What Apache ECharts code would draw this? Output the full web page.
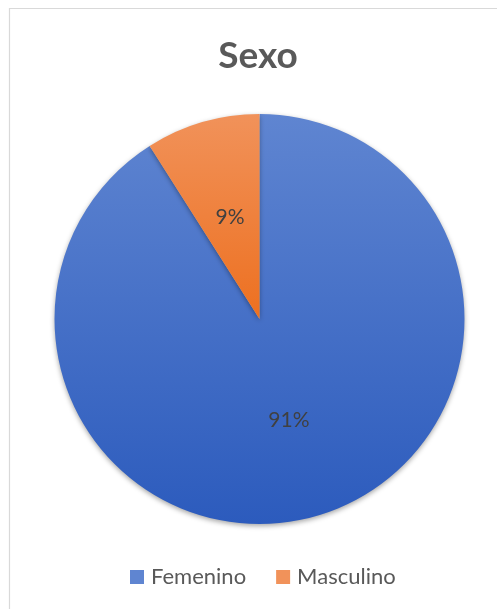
<!DOCTYPE html>
<html><head><meta charset="utf-8">
<script src="https://cdn.jsdelivr.net/npm/echarts@6/dist/echarts.min.js"></script>
<style>html,body{margin:0;padding:0;background:#fff}#c{width:497px;height:609px}</style>
</head><body><div id="c"></div>
<script>
const categories = ['Femenino', 'Masculino'];
const values = [91, 9];
const title = 'Sexo';

const chart = echarts.init(document.getElementById('c'));
const cx = 259.5, cy = 319, R = 205;
function grad(stops) {
  return new echarts.graphic.LinearGradient(0, cy - R, 0, cy + R,
    stops.map(s => ({offset: s[0], color: s[1]})), true);
}
const colors = [
  grad([[0, '#5f85d1'], [1, '#2c5bbd']]),
  grad([[0, '#f1925a'], [0.5, '#ed7020'], [1, '#e0600f']])
];
chart.setOption({
  backgroundColor: '#fff',
  graphic: [{
    type: 'rect', shape: {x: 9.5, y: 8.5, width: 520, height: 640},
    style: {fill: 'none', stroke: '#d9d9d9', lineWidth: 1.2}, silent: true
  }, {
    type: 'text', x: 258, y: 56, silent: true,
    style: {text: title, fontFamily: 'Lato', fontWeight: 'bold', fontSize: 37, fill: '#595959',
      align: 'center', verticalAlign: 'middle'}
  }],
  legend: {
    data: categories, top: 561, left: 125, itemWidth: 14, itemHeight: 14, itemGap: 30,
    icon: 'rect',
    textStyle: {fontFamily: 'Lato', fontSize: 22, color: '#595959', padding: [0, 0, 0, 2]}
  },
  series: [{
    type: 'pie', center: [cx, cy], radius: R, startAngle: 90, clockwise: true,
    data: categories.map((n, i) => ({name: n, value: values[i], itemStyle: {color: colors[i]}})),
    label: {
      show: true, position: 'inside', formatter: p => p.value + '%',
      fontFamily: 'Lato', fontSize: 21, color: '#404040'
    },
    labelLine: {show: false},
    itemStyle: {borderWidth: 0, shadowBlur: 5, shadowColor: 'rgba(0,0,0,0.35)', shadowOffsetY: 2},
    emphasis: {disabled: true},
    animation: false
  }]
});
</script></body></html>
